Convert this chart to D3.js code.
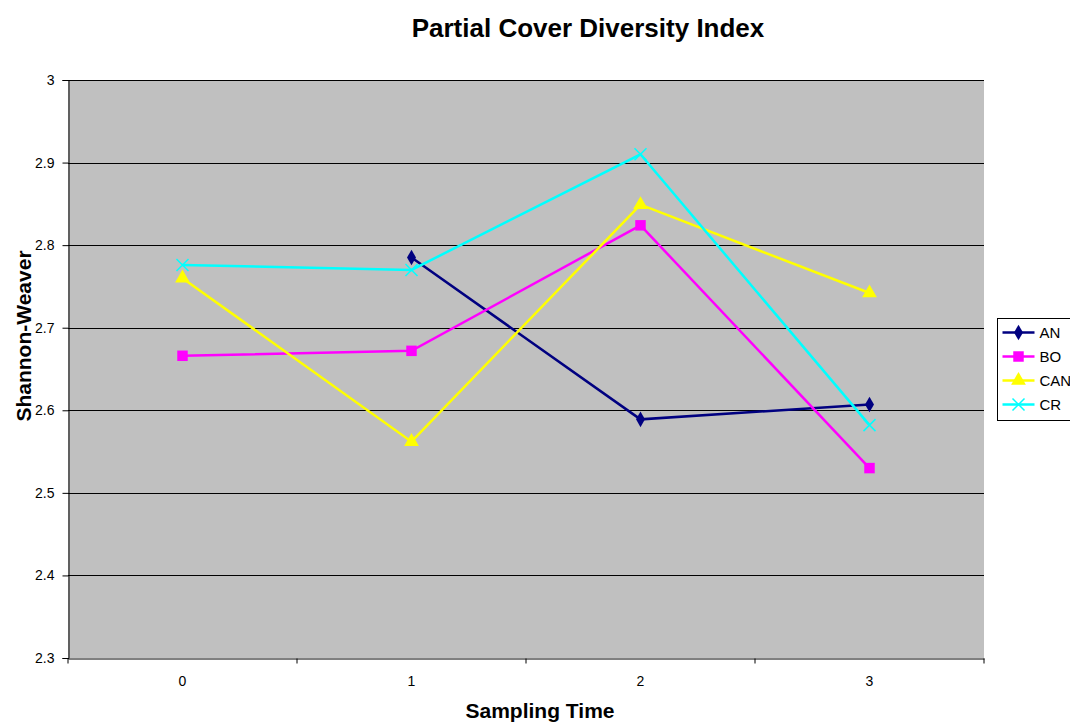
<!DOCTYPE html>
<html>
<head>
<meta charset="utf-8">
<script src="https://cdn.jsdelivr.net/npm/d3@7"></script>
<style>
  body { margin: 0; background: #fff; }
  svg { display: block; font-family: "Liberation Sans", Arial, sans-serif; }
  .axis path, .axis line { stroke: #000; }
  .axis text { font-size: 14px; fill: #000; }
</style>
</head>
<body>
<div id="chart"></div>
<script>
var categories = ["0", "1", "2", "3"];
var seriesNames = ["AN", "BO", "CAN", "CR"];
var anValues = [null, 2.785, 2.589, 2.607];
var boValues = [2.666, 2.672, 2.824, 2.530];
var canValues = [2.760, 2.562, 2.849, 2.742];
var crValues = [2.776, 2.770, 2.910, 2.582];
var yTicks = [2.3, 2.4, 2.5, 2.6, 2.7, 2.8, 2.9, 3];

var colors = ["#000080", "#ff00ff", "#ffff00", "#00ffff"];
var shapes = ["diamond", "square", "triangle", "cross"];
var allValues = [anValues, boValues, canValues, crValues];

var width = 1070, height = 722;
var margin = {top: 80, right: 86, bottom: 64, left: 68};
var w = 984 - margin.left, h = 658 - margin.top;

var svg = d3.select("#chart").append("svg")
    .attr("width", width)
    .attr("height", height);

var g = svg.append("g")
    .attr("transform", "translate(" + margin.left + "," + margin.top + ")");

var x = d3.scaleBand().domain(categories).range([0, w]);
var y = d3.scaleLinear().domain([2.3, 3]).range([h, 0]);

// plot background
g.append("rect")
    .attr("width", w).attr("height", h)
    .attr("fill", "#c0c0c0");

// gridlines
g.selectAll(".grid")
    .data(yTicks.slice(1))
    .enter().append("line")
    .attr("x1", 0).attr("x2", w)
    .attr("y1", function(d) { return Math.round(y(d)) + 0.5; })
    .attr("y2", function(d) { return Math.round(y(d)) + 0.5; })
    .attr("stroke", "#000").attr("stroke-width", 1);

// x axis: ticks at band edges
var xAxis = g.append("g")
    .attr("class", "axis")
    .attr("transform", "translate(0," + (h + 0.5) + ")")
    .call(d3.axisBottom(x).tickSize(0).tickPadding(18));
xAxis.select(".domain").attr("stroke", "#333");
xAxis.selectAll(".edge")
    .data(d3.range(categories.length + 1))
    .enter().append("line")
    .attr("class", "edge")
    .attr("x1", function(i) { return i * x.bandwidth(); })
    .attr("x2", function(i) { return i * x.bandwidth(); })
    .attr("y1", 0).attr("y2", 5)
    .attr("stroke", "#000");

var yAxis = g.append("g")
    .attr("class", "axis")
    .attr("transform", "translate(0.5,0)")
    .call(d3.axisLeft(y).tickValues(yTicks).tickSize(6).tickPadding(8)
        .tickFormat(function(d) { return d === 3 ? "3" : d3.format(".1f")(d); }));

// lines + markers
function symbolFor(shape) {
    if (shape === "diamond") return d3.symbol().type(d3.symbolDiamond).size(70);
    if (shape === "square") return d3.symbol().type(d3.symbolSquare).size(110);
    if (shape === "triangle") return d3.symbol().type(d3.symbolTriangle).size(95);
    return null;
}

function drawMarker(sel, i) {
    if (shapes[i] === "cross") {
        sel.append("path")
            .attr("d", "M-6,-6L6,6M-6,6L6,-6")
            .attr("stroke", colors[i]).attr("stroke-width", 1.5).attr("fill", "none");
    } else {
        sel.append("path")
            .attr("d", symbolFor(shapes[i])())
            .attr("fill", colors[i]);
    }
}

var line = d3.line()
    .defined(function(d) { return d != null; })
    .x(function(d, i) { return x(categories[i]) + x.bandwidth() / 2; })
    .y(function(d) { return y(d); });

allValues.forEach(function(vals, si) {
    g.append("path")
        .datum(vals)
        .attr("d", line)
        .attr("fill", "none")
        .attr("stroke", colors[si])
        .attr("stroke-width", 2.5);
});

allValues.forEach(function(vals, si) {
    vals.forEach(function(v, i) {
        if (v == null) return;
        var m = g.append("g")
            .attr("transform", "translate(" + (x(categories[i]) + x.bandwidth() / 2) + "," + y(v) + ")");
        drawMarker(m, si);
    });
});

// title and axis labels
svg.append("text")
    .attr("x", 588).attr("y", 37)
    .attr("text-anchor", "middle")
    .style("font-size", "26px").style("font-weight", "bold")
    .text("Partial Cover Diversity Index");

svg.append("text")
    .attr("x", 540).attr("y", 718)
    .attr("text-anchor", "middle")
    .style("font-size", "21px").style("font-weight", "bold")
    .text("Sampling Time");

svg.append("text")
    .attr("transform", "translate(31,336) rotate(-90)")
    .attr("text-anchor", "middle")
    .style("font-size", "21px").style("font-weight", "bold")
    .text("Shannon-Weaver");

// legend
var lg = svg.append("g").attr("transform", "translate(997.5,318.5)");
lg.append("rect")
    .attr("width", 90).attr("height", 102)
    .attr("fill", "#fff").attr("stroke", "#000");
seriesNames.forEach(function(name, i) {
    var row = lg.append("g").attr("transform", "translate(0," + (14 + i * 24) + ")");
    row.append("line")
        .attr("x1", 5).attr("x2", 37).attr("y1", 0).attr("y2", 0)
        .attr("stroke", colors[i]).attr("stroke-width", 2.5);
    var m = row.append("g").attr("transform", "translate(21,0)");
    drawMarker(m, i);
    row.append("text")
        .attr("x", 42).attr("y", 5)
        .style("font-size", "15px")
        .text(name);
});
</script>
</body>
</html>
